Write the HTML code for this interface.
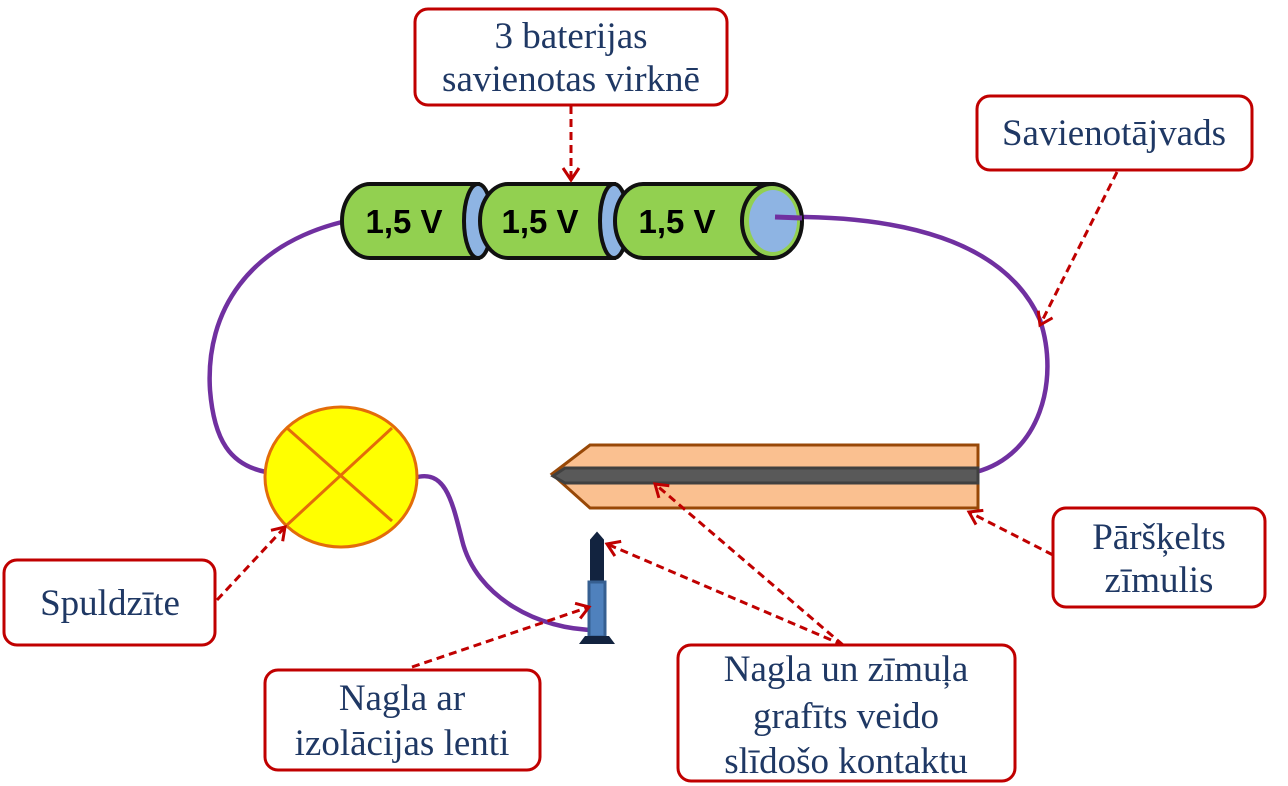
<!DOCTYPE html>
<html><head><meta charset="utf-8"><style>
html,body{margin:0;padding:0;background:#fff;width:1288px;height:786px;overflow:hidden}
svg{display:block}
.box{fill:#fff;stroke:#c00000;stroke-width:3}
.t{font-family:"Liberation Serif",serif;font-size:37px;fill:#1f3864;text-anchor:middle}
.v{font-family:"Liberation Sans",sans-serif;font-weight:bold;font-size:33px;fill:#000;text-anchor:middle}
.ar{stroke:#c00000;stroke-width:3;fill:none;stroke-dasharray:8,5}
.w{stroke:#7030a0;stroke-width:4.5;fill:none}
</style></head><body>
<svg width="1288" height="786" viewBox="0 0 1288 786">
<defs>
<marker id="m" viewBox="-14 -9 16 18" refX="0" refY="0" markerWidth="16" markerHeight="18" markerUnits="userSpaceOnUse" orient="auto" style="overflow:visible">
<path d="M-12,-8 L0,0 L-12,8" fill="none" stroke="#c00000" stroke-width="3"/>
</marker>
</defs>
<!-- wires -->
<path class="w" d="M342,222 C250,245 205,310 210,390 C214,440 230,465 266,472"/>
<path class="w" d="M778,217 C900,215 1005,240 1040,320 C1060,380 1040,455 976,472"/>
<path class="w" d="M414,478 C445,468 452,500 462,540 C476,598 540,630 596,630"/>
<!-- batteries -->
<g stroke="#111" stroke-width="4">
<path d="M370,184 L478,184 L478,258 L370,258 A28,37 0 0 1 370,184 Z" fill="#92d050"/>
<ellipse cx="478" cy="221" rx="14" ry="37" fill="#8eb4e3"/>
<path d="M508,184 L614,184 L614,258 L508,258 A28,37 0 0 1 508,184 Z" fill="#92d050"/>
<ellipse cx="614" cy="221" rx="14" ry="37" fill="#8eb4e3"/>
<path d="M643,184 L772,184 L772,258 L643,258 A28,37 0 0 1 643,184 Z" fill="#92d050"/>
<ellipse cx="772" cy="221" rx="30" ry="37" fill="#92d050"/>
</g>
<ellipse cx="773" cy="221" rx="24" ry="31" fill="#8eb4e3"/>
<path d="M775,217 L802,218" stroke="#7030a0" stroke-width="5"/>
<text class="v" x="404" y="233">1,5 V</text>
<text class="v" x="540" y="233">1,5 V</text>
<text class="v" x="677" y="233">1,5 V</text>
<!-- bulb -->
<ellipse cx="341" cy="477" rx="76" ry="70" fill="#ffff00" stroke="#e36c0a" stroke-width="3"/>
<path d="M287,428 L392,521 M392,428 L287,525" stroke="#e36c0a" stroke-width="3"/>
<!-- pencil -->
<polygon points="552,474 590,445 978,445 978,508 590,508" fill="#fac090" stroke="#984807" stroke-width="3"/>
<polygon points="553,476 565,468 978,468 978,483 565,483" fill="#595959" stroke="#404040" stroke-width="3"/>
<!-- nail -->
<polygon points="591,540 597,533 603,540 603,584 591,584" fill="#12233f" stroke="#12233f" stroke-width="2"/>
<rect x="589" y="582" width="16" height="55" fill="#4f81bd" stroke="#365f91" stroke-width="3"/>
<polygon points="585,636 609,636 615,644 579,644" fill="#12233f"/>
<!-- arrows -->
<path class="ar" d="M571,106 L571,180" marker-end="url(#m)"/>
<path class="ar" d="M1117,172 L1040,325" marker-end="url(#m)"/>
<path class="ar" d="M1053,555 L969,512" marker-end="url(#m)"/>
<path class="ar" d="M217,600 L285,527" marker-end="url(#m)"/>
<path class="ar" d="M412,667 L589,607" marker-end="url(#m)"/>
<path class="ar" d="M843,645 L607,544" marker-end="url(#m)"/>
<path class="ar" d="M843,645 L655,484" marker-end="url(#m)"/>
<!-- boxes -->
<rect class="box" x="415" y="9" width="312" height="96" rx="13"/>
<text class="t" x="571" y="48">3 baterijas</text>
<text class="t" x="571" y="91">savienotas virknē</text>
<rect class="box" x="977" y="96" width="275" height="74" rx="13"/>
<text class="t" x="1114" y="145">Savienotājvads</text>
<rect class="box" x="1053" y="508" width="212" height="99" rx="13"/>
<text class="t" x="1159" y="549">Pāršķelts</text>
<text class="t" x="1159" y="592">zīmulis</text>
<rect class="box" x="4" y="560" width="211" height="85" rx="13"/>
<text class="t" x="110" y="615">Spuldzīte</text>
<rect class="box" x="265" y="670" width="275" height="100" rx="13"/>
<text class="t" x="402" y="710">Nagla ar</text>
<text class="t" x="402" y="755">izolācijas lenti</text>
<rect class="box" x="678" y="645" width="337" height="136" rx="13"/>
<text class="t" x="846" y="681">Nagla un zīmuļa</text>
<text class="t" x="846" y="728">grafīts veido</text>
<text class="t" x="846" y="773">slīdošo kontaktu</text>
</svg>
</body></html>
